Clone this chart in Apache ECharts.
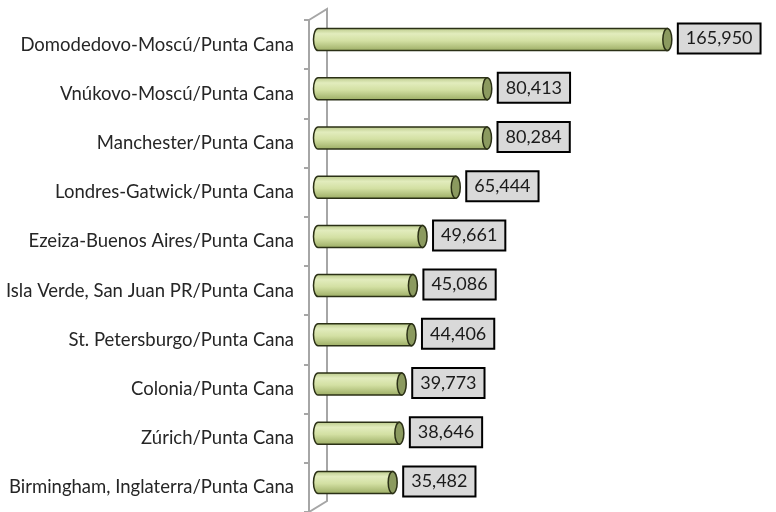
<!DOCTYPE html>
<html>
<head>
<meta charset="utf-8">
<script src="https://cdn.jsdelivr.net/npm/echarts@6/dist/echarts.min.js"></script>
<style>
  html, body { margin: 0; padding: 0; background: #fff; }
  #chart { width: 776px; height: 512px; }
</style>
</head>
<body>
<div id="chart"></div>
<script>
const routes = [
  'Domodedovo-Moscú/Punta Cana',
  'Vnúkovo-Moscú/Punta Cana',
  'Manchester/Punta Cana',
  'Londres-Gatwick/Punta Cana',
  'Ezeiza-Buenos Aires/Punta Cana',
  'Isla Verde, San Juan PR/Punta Cana',
  'St. Petersburgo/Punta Cana',
  'Colonia/Punta Cana',
  'Zúrich/Punta Cana',
  'Birmingham, Inglaterra/Punta Cana'
]
const passengers = [165950, 80413, 80284, 65444, 49661, 45086, 44406, 39773, 38646, 35482]

const FONT = 'Lato'
const gridLeft = 309
const gridTop = 20
const gridHeight = 492
const depthX = 18 // profundidad 3D
const depthY = -11

const chart = echarts.init(document.getElementById('chart'))

function renderCylinder(params, api) {
  const cat = api.value(1)
  const val = api.value(0)
  const p0 = api.coord([0, cat])
  const p1 = api.coord([val, cat])
  const x0 = p0[0] + depthX / 2
  const x1 = p1[0] + depthX / 2
  const cy = p0[1] - 5
  const h = 22
  const rx = 4.5
  const top = cy - h / 2
  const bot = cy + h / 2
  const body = 'M' + x0 + ' ' + top + ' L' + x1 + ' ' + top + ' L' + x1 + ' ' + bot +
    ' L' + x0 + ' ' + bot + ' A' + rx + ' ' + (h / 2) + ' 0 0 1 ' + x0 + ' ' + top + ' Z'
  const cap = 'M' + x1 + ' ' + top + ' A' + rx + ' ' + (h / 2) + ' 0 1 1 ' + x1 + ' ' + bot +
    ' A' + rx + ' ' + (h / 2) + ' 0 1 1 ' + x1 + ' ' + top + ' Z'
  return {
    type: 'group',
    children: [
      {
        type: 'path',
        shape: { pathData: body },
        style: {
          fill: new echarts.graphic.LinearGradient(0, 0, 0, 1, [
            { offset: 0, color: '#b7c786' },
            { offset: 0.25, color: '#e2ecbd' },
            { offset: 0.55, color: '#d3e0a3' },
            { offset: 1, color: '#9aab62' }
          ]),
          stroke: '#2b3016',
          lineWidth: 1.5
        }
      },
      {
        type: 'path',
        shape: { pathData: cap },
        style: { fill: '#8b9a5f', stroke: '#2b3016', lineWidth: 1.5 }
      },
      {
        type: 'text',
        x: x1 + rx + 7,
        y: cy - 1,
        style: {
          text: val.toLocaleString('en-US'),
          font: '18px ' + FONT,
          fill: '#1a1a1a',
          verticalAlign: 'middle',
          lineHeight: 21,
          backgroundColor: '#d9d9d9',
          borderColor: '#000',
          borderWidth: 2,
          padding: [4, 7, 3, 7]
        }
      }
    ]
  }
}

const gb = gridTop + gridHeight

chart.setOption({
  animation: false,
  backgroundColor: '#fff',
  grid: { left: gridLeft, top: gridTop, height: gridHeight, right: 46 },
  xAxis: {
    type: 'value',
    min: 0,
    max: 200000,
    show: false
  },
  yAxis: {
    type: 'category',
    data: routes,
    inverse: true,
    axisLine: { show: true, lineStyle: { color: '#a6a6a6', width: 2 } },
    axisTick: { show: true, length: 5, lineStyle: { color: '#a6a6a6', width: 2 } },
    axisLabel: { margin: 15, fontFamily: FONT, fontSize: 18.5, color: '#262626' }
  },
  // pared posterior
  graphic: [
    {
      type: 'polyline',
      shape: { points: [[gridLeft, gridTop], [gridLeft + depthX, gridTop + depthY], [gridLeft + depthX, gb + depthY], [gridLeft, gb]] },
      style: { stroke: '#a6a6a6', lineWidth: 2, fill: null },
      z: -1
    }
  ],
  series: [
    {
      type: 'custom',
      renderItem: renderCylinder,
      encode: { x: 0, y: 1 },
      data: passengers.map((v, i) => [v, i])
    }
  ]
})
</script>
</body>
</html>
